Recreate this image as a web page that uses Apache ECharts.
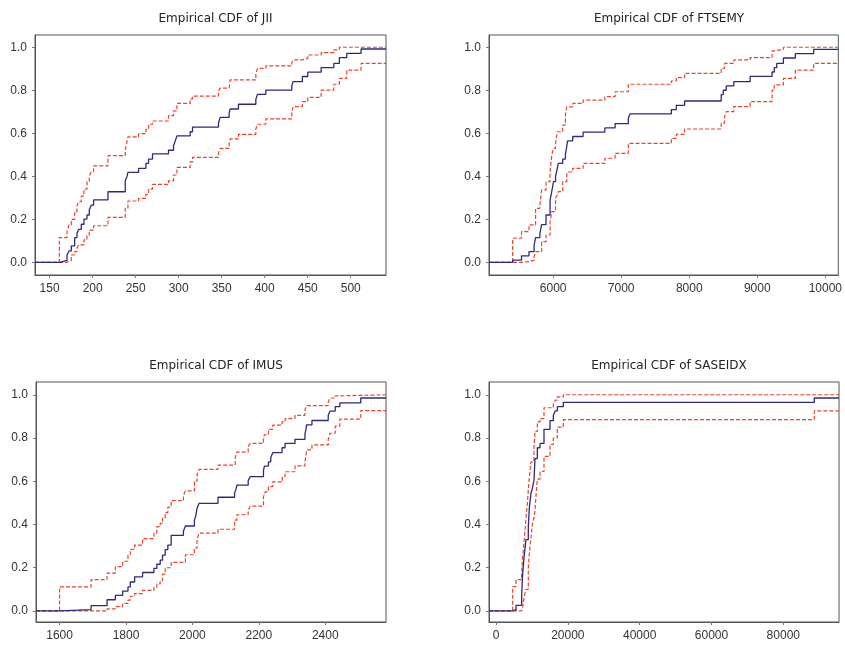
<!DOCTYPE html>
<html>
<head>
<meta charset="utf-8">
<script src="https://cdn.jsdelivr.net/npm/echarts@6/dist/echarts.min.js"></script>
<style>html,body{margin:0;padding:0;background:#fff}#c{width:845px;height:647px}</style>
</head>
<body>
<div id="c"></div>
<script>
// ---- Data ----
const titles = ["Empirical CDF of JII", "Empirical CDF of FTSEMY", "Empirical CDF of IMUS", "Empirical CDF of SASEIDX"];
const yTicks = [0, 0.2, 0.4, 0.6, 0.8, 1.0];
const xTicksJII = [150, 200, 250, 300, 350, 400, 450, 500];
const xTicksFTSEMY = [6000, 7000, 8000, 9000, 10000];
const xTicksIMUS = [1600, 1800, 2000, 2200, 2400];
const xTicksSASEIDX = [0, 20000, 40000, 60000, 80000];

const cdfJII = [[133,0],[162.4,0.009],[170.2,0.034],[172.5,0.053],[175.2,0.076],[179.1,0.115],[181.8,0.135],[183.7,0.153],[186.8,0.177],[189.9,0.201],[193.4,0.22],[196.1,0.243],[198.4,0.266],[201.1,0.29],[217.8,0.328],[237.9,0.38],[239.9,0.398],[241,0.418],[253.4,0.437],[261.9,0.46],[265,0.48],[269.6,0.504],[288.2,0.521],[294,0.542],[296,0.564],[298,0.588],[313.4,0.607],[316.1,0.629],[346.3,0.649],[348.3,0.674],[358.7,0.696],[359.9,0.713],[369.5,0.735],[389.7,0.758],[391.6,0.781],[401.3,0.801],[431.5,0.821],[433,0.84],[443.8,0.864],[450.1,0.884],[465.6,0.905],[480.3,0.925],[486.8,0.952],[495.4,0.972],[512,0.992],[541,0.992]];
const upJII = [[133,0],[161.3,0.115],[170.2,0.143],[172.5,0.174],[175.2,0.2],[179.1,0.236],[181.8,0.26],[183.7,0.282],[186.8,0.308],[189.9,0.34],[193.4,0.375],[196.1,0.4],[198.4,0.421],[201.1,0.448],[217.8,0.496],[237.9,0.522],[239.9,0.561],[241,0.583],[253.4,0.598],[261.9,0.618],[265,0.642],[269.6,0.657],[288.2,0.682],[294,0.704],[298,0.739],[313.4,0.76],[316.1,0.773],[346.3,0.797],[348.3,0.81],[358.7,0.817],[359.9,0.848],[389.7,0.879],[391.6,0.902],[401.3,0.913],[431.5,0.928],[433,0.941],[443.8,0.948],[450.1,0.964],[465.6,0.975],[480.3,0.988],[486.8,1.0],[541,1.0]];
const loJII = [[133,0],[170.2,0.009],[175.2,0.034],[179.1,0.05],[181.8,0.065],[183.7,0.081],[189.9,0.104],[193.4,0.127],[196.1,0.15],[201.1,0.17],[217.8,0.209],[237.9,0.251],[241,0.285],[253.4,0.297],[261.9,0.316],[265,0.34],[269.6,0.362],[288.2,0.379],[294,0.406],[298,0.441],[313.4,0.467],[316.1,0.488],[346.3,0.507],[348.3,0.53],[358.7,0.553],[359.9,0.574],[369.5,0.595],[389.7,0.62],[391.6,0.642],[401.3,0.667],[431.5,0.701],[433,0.724],[443.8,0.747],[450.1,0.767],[465.6,0.801],[480.3,0.828],[486.8,0.855],[495.4,0.894],[512,0.925],[541,0.925]];

const cdfFTSEMY = [[5057,0],[5405,0.01],[5535,0.03],[5645,0.05],[5720,0.08],[5742,0.115],[5805,0.135],[5830,0.175],[5895,0.22],[5955,0.29],[5980,0.33],[6005,0.375],[6035,0.4],[6060,0.435],[6075,0.46],[6140,0.48],[6180,0.5],[6200,0.54],[6212,0.565],[6287,0.585],[6440,0.605],[6760,0.625],[6910,0.645],[7105,0.67],[7128,0.69],[7737,0.71],[7810,0.73],[7932,0.75],[8470,0.78],[8500,0.8],[8544,0.82],[8655,0.84],[8895,0.865],[9218,0.885],[9250,0.905],[9286,0.925],[9384,0.95],[9560,0.97],[9829,0.99],[10191,0.99]];
const upFTSEMY = [[5057,0],[5405,0.112],[5535,0.143],[5645,0.174],[5742,0.251],[5805,0.266],[5830,0.336],[5895,0.375],[5955,0.421],[5980,0.499],[6005,0.53],[6035,0.553],[6060,0.607],[6140,0.638],[6180,0.685],[6200,0.723],[6287,0.739],[6440,0.754],[6760,0.77],[6910,0.793],[7105,0.828],[7737,0.843],[7810,0.859],[7932,0.879],[8470,0.902],[8520,0.925],[8655,0.941],[8895,0.952],[9218,0.983],[9250,0.99],[9384,1.0],[10191,1.0]];
const loFTSEMY = [[5057,0],[5535,0.003],[5645,0.009],[5720,0.026],[5742,0.05],[5830,0.096],[5895,0.127],[5955,0.189],[5980,0.236],[6035,0.298],[6060,0.313],[6075,0.329],[6140,0.375],[6200,0.406],[6212,0.42],[6287,0.437],[6440,0.46],[6760,0.484],[6910,0.507],[7105,0.553],[7737,0.576],[7810,0.595],[7932,0.62],[8470,0.647],[8520,0.678],[8544,0.701],[8655,0.724],[8895,0.747],[9218,0.801],[9250,0.825],[9384,0.855],[9560,0.894],[9829,0.925],[10191,0.925]];

const cdfIMUS = [[1529,0],[1600,0.006],[1695,0.025],[1743,0.052],[1768,0.072],[1790,0.092],[1806,0.111],[1813,0.134],[1826,0.158],[1850,0.178],[1884,0.197],[1893,0.216],[1903,0.235],[1910,0.258],[1918,0.284],[1926,0.305],[1936,0.35],[1973,0.37],[1979,0.393],[2006,0.42],[2010,0.44],[2014,0.475],[2020,0.498],[2077,0.526],[2127,0.545],[2131,0.562],[2134,0.582],[2168,0.603],[2174,0.621],[2214,0.65],[2217,0.67],[2229,0.69],[2236,0.71],[2242,0.732],[2270,0.755],[2279,0.775],[2309,0.794],[2339,0.82],[2342,0.84],[2344,0.861],[2360,0.881],[2409,0.905],[2414,0.924],[2430,0.945],[2444,0.962],[2507,0.985],[2583,0.985]];
const upIMUS = [[1529,0],[1600,0.111],[1695,0.145],[1743,0.175],[1768,0.205],[1790,0.23],[1806,0.26],[1813,0.285],[1826,0.305],[1850,0.335],[1884,0.36],[1893,0.39],[1903,0.405],[1910,0.43],[1918,0.455],[1926,0.48],[1936,0.51],[1973,0.535],[1979,0.555],[2006,0.6],[2014,0.63],[2020,0.655],[2077,0.675],[2129,0.71],[2134,0.735],[2168,0.76],[2174,0.775],[2214,0.8],[2217,0.815],[2229,0.84],[2242,0.86],[2270,0.875],[2279,0.89],[2309,0.905],[2339,0.93],[2344,0.95],[2409,0.965],[2414,0.985],[2430,0.995],[2444,1.0],[2583,1.0]];
const loIMUS = [[1529,0],[1743,0.01],[1768,0.02],[1790,0.035],[1806,0.05],[1813,0.068],[1826,0.08],[1850,0.095],[1884,0.11],[1893,0.125],[1903,0.14],[1910,0.17],[1918,0.2],[1936,0.225],[1979,0.26],[2006,0.29],[2014,0.33],[2020,0.36],[2077,0.378],[2127,0.42],[2134,0.445],[2168,0.465],[2174,0.485],[2214,0.528],[2219,0.551],[2229,0.575],[2242,0.597],[2271,0.621],[2279,0.644],[2309,0.671],[2339,0.691],[2342,0.72],[2344,0.745],[2360,0.768],[2409,0.791],[2414,0.822],[2430,0.855],[2444,0.887],[2507,0.927],[2583,0.927]];

const cdfSASEIDX = [[-1949,0],[4641,0.006],[5569,0.026],[7147,0.072],[7426,0.175],[7890,0.262],[8354,0.33],[8997,0.39],[9274,0.475],[9746,0.545],[10100,0.565],[10582,0.605],[10860,0.705],[11510,0.755],[12253,0.775],[13367,0.84],[15038,0.88],[15966,0.905],[16500,0.925],[17081,0.945],[18752,0.965],[88638,0.985],[95510,0.985]];
const upSASEIDX = [[-1949,0],[4641,0.113],[5569,0.145],[7147,0.17],[7426,0.25],[7890,0.335],[8354,0.43],[8700,0.49],[8997,0.56],[9274,0.62],[9746,0.69],[10582,0.755],[10860,0.83],[11510,0.875],[12253,0.89],[13367,0.94],[15966,0.955],[16500,0.975],[17081,0.99],[18752,1.0],[95510,1.0]];
const loSASEIDX = [[-1949,0],[7147,0.005],[7426,0.02],[7890,0.07],[8354,0.1],[8997,0.2],[9274,0.265],[9746,0.34],[10100,0.4],[10582,0.43],[10860,0.465],[11200,0.55],[11510,0.61],[12253,0.645],[13367,0.715],[15038,0.77],[15966,0.8],[17081,0.85],[18752,0.885],[88638,0.925],[95510,0.925]];

// ---- Layout ----
const panels = [
  {title: titles[0], cdf: cdfJII, up: upJII, lo: loJII, xt: xTicksJII, xmin: 133, xmax: 541, grid: {left: 35, top: 35, width: 351, height: 240}, ymin: -0.059, ymax: 1.057, ty: 8},
  {title: titles[1], cdf: cdfFTSEMY, up: upFTSEMY, lo: loFTSEMY, xt: xTicksFTSEMY, xmin: 5057, xmax: 10191, grid: {left: 489, top: 35, width: 350, height: 240}, ymin: -0.059, ymax: 1.057, ty: 8},
  {title: titles[2], cdf: cdfIMUS, up: upIMUS, lo: loIMUS, xt: xTicksIMUS, xmin: 1529, xmax: 2583, grid: {left: 36, top: 382, width: 350, height: 240}, ymin: -0.051, ymax: 1.059, ty: 355},
  {title: titles[3], cdf: cdfSASEIDX, up: upSASEIDX, lo: loSASEIDX, xt: xTicksSASEIDX, xmin: -1949, xmax: 95510, grid: {left: 489, top: 382, width: 350, height: 240}, ymin: -0.051, ymax: 1.059, ty: 355}
];

const FONT = "'Liberation Sans', Arial, sans-serif";
const TFONT = "'DejaVu Sans', sans-serif";
const option = {animation: false, title: [], grid: [], xAxis: [], yAxis: [], series: []};
panels.forEach((p, i) => {
  option.title.push({text: p.title, left: p.grid.left + p.grid.width / 2, top: p.ty, textAlign: 'center',
    textStyle: {fontSize: 12, fontWeight: 'normal', color: '#222', fontFamily: TFONT}});
  option.grid.push(Object.assign({show: true, borderColor: '#555', borderWidth: 1, backgroundColor: '#fff'}, p.grid));
  option.xAxis.push({type: 'value', gridIndex: i, min: p.xmin, max: p.xmax, position: 'bottom',
    axisLine: {show: true, onZero: false, lineStyle: {color: '#555'}}, splitLine: {show: false},
    axisTick: {show: true, inside: false, customValues: p.xt, length: 3, lineStyle: {color: '#777'}},
    axisLabel: {customValues: p.xt, margin: 8, fontSize: 12, color: '#333', fontFamily: FONT,
      formatter: v => String(v)}});
  option.yAxis.push({type: 'value', gridIndex: i, min: p.ymin, max: p.ymax, position: 'left',
    axisLine: {show: true, onZero: false, lineStyle: {color: '#555'}}, splitLine: {show: false},
    axisTick: {show: true, inside: false, customValues: yTicks, length: 3, lineStyle: {color: '#777'}},
    axisLabel: {customValues: yTicks, margin: 8, fontSize: 12, color: '#333', fontFamily: FONT,
      formatter: v => v.toFixed(1)}});
  const dash = {color: '#e9442b', width: 1.2, type: [4, 2]};
  option.series.push({type: 'line', xAxisIndex: i, yAxisIndex: i, step: 'end', symbol: 'none', data: p.up, lineStyle: dash, z: 2});
  option.series.push({type: 'line', xAxisIndex: i, yAxisIndex: i, step: 'end', symbol: 'none', data: p.lo, lineStyle: dash, z: 2});
  option.series.push({type: 'line', xAxisIndex: i, yAxisIndex: i, step: 'end', symbol: 'none', data: p.cdf,
    lineStyle: {color: '#2d2a7c', width: 1.3}, z: 3});
});
const chart = echarts.init(document.getElementById('c'), null, {renderer: 'canvas'});
chart.setOption(option);
</script>
</body>
</html>
